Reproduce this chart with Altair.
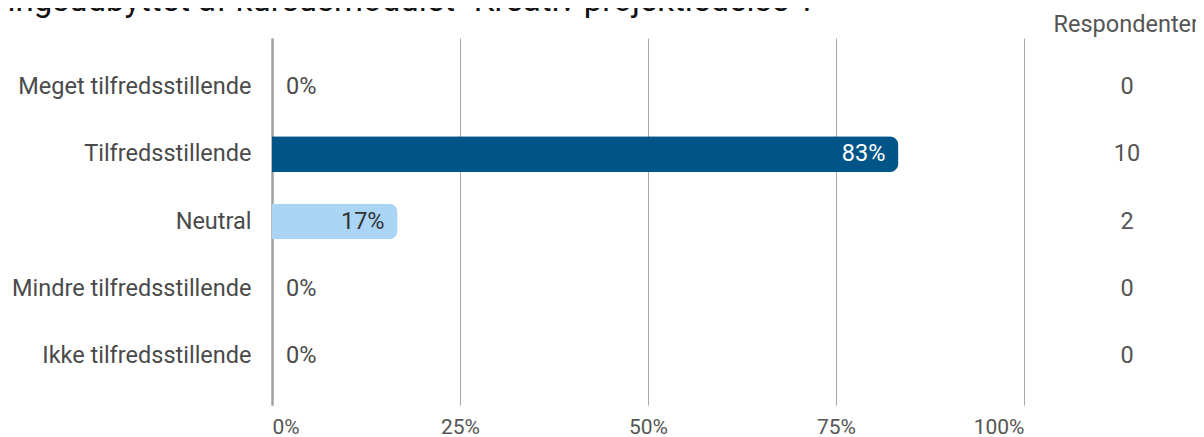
import altair as alt
import pandas as pd

categories = ["Meget tilfredsstillende", "Tilfredsstillende", "Neutral",
              "Mindre tilfredsstillende", "Ikke tilfredsstillende"]
percents = [0, 83.3, 16.7, 0, 0]
pct_labels = ["0%", "83%", "17%", "0%", "0%"]
respondents = [0, 10, 2, 0, 0]
tick_values = [0, 25, 50, 75, 100]
title_text = 'Hvordan vurderer du læringsudbyttet af kursusmodulet "Kreativ projektledelse"?'
column_header = "Respondenter"

df = pd.DataFrame({"cat": categories, "pct": percents, "lbl": pct_labels, "n": respondents})

FONT = "Roboto"
W, H = 752, 367

yenc = alt.Y("cat:N", sort=categories, title=None,
             scale=alt.Scale(paddingInner=0.465, paddingOuter=0.461),
             axis=alt.Axis(labelFont=FONT, labelFontSize=23.5, labelColor="#4a4a4a",
                           labelPadding=21, ticks=False, domain=True,
                           domainColor="#a0a0a0", domainWidth=2.5, grid=False,
                           labelLimit=400))
xscale = alt.Scale(domain=[0, 100], nice=False)

base = alt.Chart(df)

bars = base.transform_filter("datum.pct > 0").mark_bar(cornerRadiusEnd=9).encode(
    x=alt.X("pct:Q", scale=xscale, title=None,
            axis=alt.Axis(values=tick_values, labelExpr="datum.value + '%'",
                          labelFont=FONT, labelFontSize=21, labelColor="#555555",
                          labelPadding=11, ticks=False, domain=False, grid=True,
                          gridColor="#a8a8a8", gridWidth=1)),
    y=yenc,
    color=alt.Color("cat:N", legend=None,
                    scale=alt.Scale(domain=["Tilfredsstillende", "Neutral"],
                                    range=["#005588", "#aad5f5"])),
)

inside = base.transform_filter("datum.pct > 0").mark_text(
    align="right", baseline="middle", dx=-13, font=FONT, fontSize=23.5).encode(
    x=alt.X("pct:Q", scale=xscale),
    y=alt.Y("cat:N", sort=categories),
    text="lbl:N",
    color=alt.condition("datum.cat == 'Neutral'", alt.value("#333333"), alt.value("#ffffff")),
)

zeros = base.transform_filter("datum.pct == 0").mark_text(
    align="left", baseline="middle", dx=14, font=FONT, fontSize=23.5, color="#4a4a4a").encode(
    x=alt.X("pct:Q", scale=xscale),
    y=alt.Y("cat:N", sort=categories),
    text="lbl:N",
)

counts = base.mark_text(align="center", baseline="middle", font=FONT, fontSize=23.5,
                        color="#555555").encode(
    x=alt.value(855),
    y=alt.Y("cat:N", sort=categories),
    text="n:Q",
)

header = alt.Chart(pd.DataFrame({"t": [column_header]})).mark_text(
    align="right", baseline="middle", font=FONT, fontSize=23.5, color="#555555").encode(
    x=alt.value(927), y=alt.value(-13), text="t:N")

title = alt.Chart(pd.DataFrame({"t": [title_text]})).mark_text(
    align="right", baseline="alphabetic", font=FONT, fontSize=33, color="#111111").encode(
    x=alt.value(543), y=alt.value(-27), text="t:N")

chart = alt.layer(bars, inside, zeros, counts, header, title).properties(
    width=W, height=H,
    autosize=alt.AutoSizeParams(type="none"),
    padding={"left": 264, "top": 30, "right": 172, "bottom": 36},
).configure_view(stroke=None)

chart.save("out.html", embed_options={"renderer": "svg", "actions": False})
